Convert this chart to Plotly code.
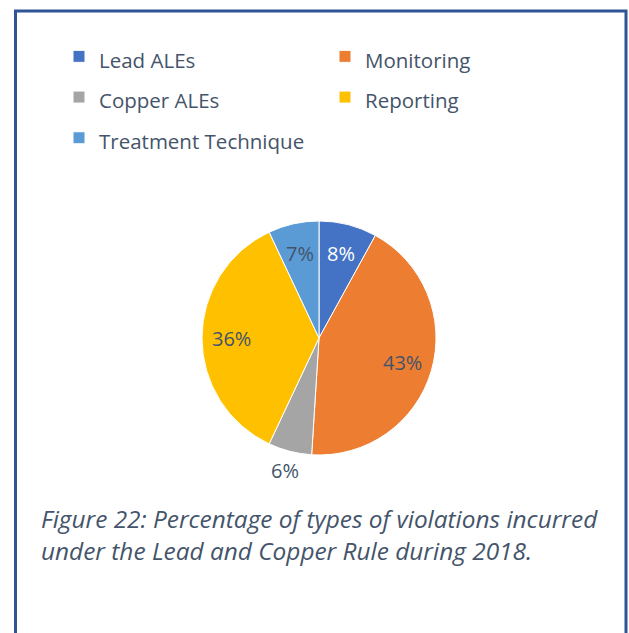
import math
import plotly.graph_objects as go

categories = ["Lead ALEs", "Monitoring", "Copper ALEs", "Reporting", "Treatment Technique"]
percent_values = [8, 43, 6, 36, 7]
slice_colors = ["#4472C4", "#ED7D31", "#A5A5A5", "#FFC000", "#5B9BD5"]
label_colors = ["#FFFFFF", "#44546A", "#44546A", "#44546A", "#44546A"]
label_outside = [False, False, True, False, False]
caption_lines = [
    "Figure 22: Percentage of types of violations incurred",
    "under the Lead and Copper Rule during 2018.",
]

W, H = 629, 633
TEXT = "#44546A"
FONT = "Open Sans"


def px(x):
    return x / W


def py(y):
    return 1 - y / H


# legend names rendered at 20.5px while the legend font (29px) sets row spacing
legend_names = ['<span style="font-size:20.5px">%s</span>' % c for c in categories]

cx, cy, R = 319, 338, 117  # pie centre / radius in pixels

fig = go.Figure(
    go.Pie(
        labels=legend_names,
        values=percent_values,
        sort=False,
        direction="clockwise",
        rotation=0,
        marker=dict(colors=slice_colors, line=dict(color="#FFFFFF", width=1)),
        textinfo="none",
        hoverinfo="label+percent",
        domain=dict(x=[px(cx - R), px(cx + R)], y=[py(cy + R), py(cy - R)]),
    )
)

# percentage labels placed at each slice's mid-angle (derived from the data)
annotations = []
total = sum(percent_values)
cum = 0
for v, col, out in zip(percent_values, label_colors, label_outside):
    mid = (cum + v / 2) / total * 2 * math.pi
    cum += v
    r = R + 20 if out else 0.744 * R
    lx = cx + r * math.sin(mid)
    ly = cy - r * math.cos(mid)
    annotations.append(
        dict(
            text="%d%%" % round(v / total * 100),
            xref="paper", yref="paper",
            x=px(lx), y=py(ly),
            xanchor="center", yanchor="middle",
            showarrow=False,
            font=dict(family=FONT, size=20, color=TEXT if out else col),
        )
    )

for i, line in enumerate(caption_lines):
    annotations.append(
        dict(
            text=line,
            xref="paper", yref="paper",
            x=px(39), y=py(518 + 32 * i),
            xanchor="left", yanchor="middle",
            showarrow=False,
            font=dict(family=FONT, size=24.4, color=TEXT, style="italic"),
        )
    )

fig.update_layout(
    width=W, height=H,
    margin=dict(l=0, r=0, t=0, b=0),
    paper_bgcolor="white",
    plot_bgcolor="white",
    showlegend=True,
    legend=dict(
        orientation="h",
        x=px(59), xanchor="left",
        y=py(31), yanchor="top",
        entrywidth=221, entrywidthmode="pixels",
        font=dict(family=FONT, size=29, color=TEXT),
        bgcolor="rgba(0,0,0,0)",
        traceorder="normal",
    ),
    annotations=annotations,
    shapes=[
        dict(
            type="rect", xref="paper", yref="paper",
            x0=px(15.5), x1=px(626), y0=-0.05, y1=py(11),
            line=dict(color="#2F5597", width=3),
            fillcolor="rgba(0,0,0,0)",
            layer="above",
        )
    ],
)

fig.write_html(
    "out.html",
    config={"displayModeBar": False},
    post_script="document.body.style.margin='0';document.body.style.overflow='hidden';",
)
